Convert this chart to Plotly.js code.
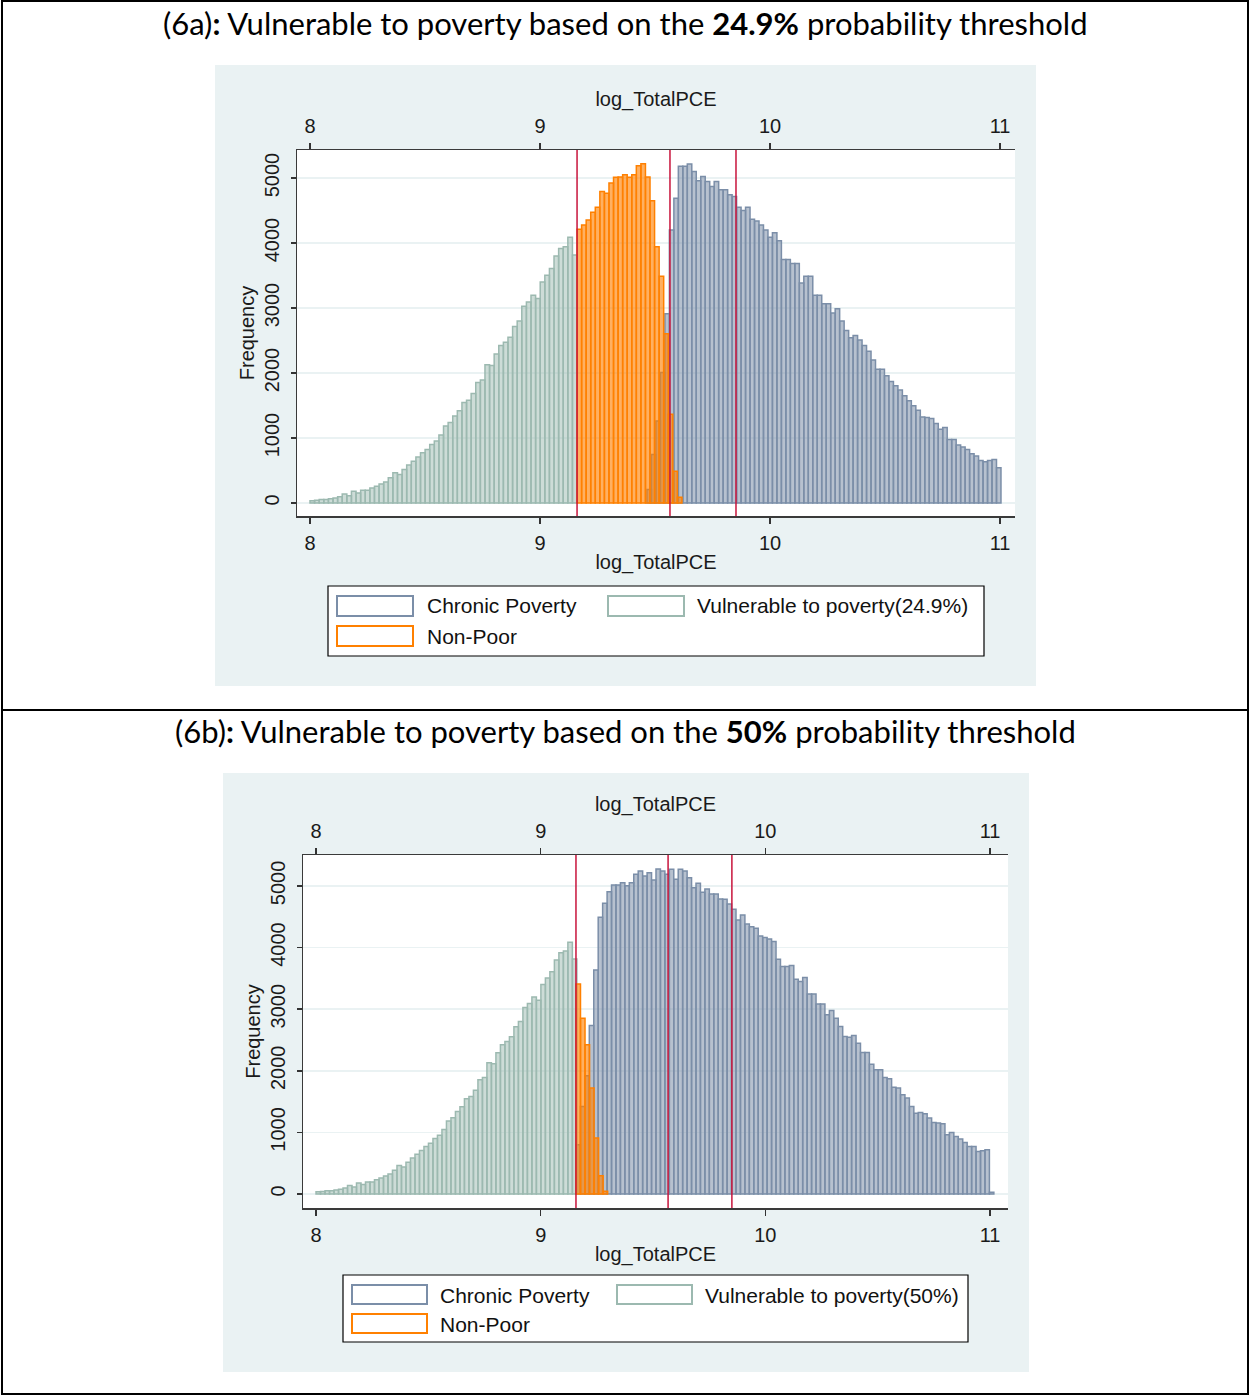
<!DOCTYPE html>
<html><head><meta charset="utf-8">
<script src="https://cdn.plot.ly/plotly-3.0.1.min.js"></script>
<style>html,body{margin:0;padding:0;background:#fff}#chart{width:1250px;height:1395px}</style>
</head><body><div id="chart"></div>
<script>
// ---------------- data ----------------
const xTicks = [8, 9, 10, 11];
const yTicks = [0, 1000, 2000, 3000, 4000, 5000];
const xTitle = 'log_TotalPCE';
const yTitle = 'Frequency';
const labelChronic = 'Chronic Poverty';
const labelNonPoor = 'Non-Poor';
const labelVulnA = 'Vulnerable to poverty(24.9%)';
const labelVulnB = 'Vulnerable to poverty(50%)';
const titleA = '(6a)<b>:</b> Vulnerable to poverty based on the <b>24.9%</b> probability threshold';
const titleB = '(6b)<b>:</b> Vulnerable to poverty based on the <b>50%</b> probability threshold';

// threshold lines (log_TotalPCE)
const thresholdsA = [9.161, 9.565, 9.852];
const thresholdsB = [9.157, 9.567, 9.851];

// bin ranges [first edge, last edge] of each histogram
const vulnRange = [8.0, 9.161];
const nonPoorRangeA = [9.161, 9.617];
const chronicRangeA = [9.465, 11.004];
const nonPoorRangeB = [9.157, 9.298];
const chronicRangeB = [9.157, 11.017];

// frequencies (vulnerable group identical in both panels)
const vulnerable = [36,41,52,52,67,77,98,139,113,180,155,196,196,232,258,294,325,387,464,438,
  516,583,644,706,773,825,902,954,1046,1186,1237,1340,1418,1547,1583,1686,1856,1892,2129,2114,
  2294,2423,2474,2552,2717,2799,3026,3093,3196,3145,3402,3505,3609,3799,3918,3944,4088,3815];

const nonPoorA = [4212,4279,4356,4475,4552,4794,4768,4923,5011,5016,5052,5011,5052,5191,5222,
  5016,4650,3944,3490,2603,1366,490,88];

const chronicA = [206,747,1263,2010,2913,4201,4691,5181,5181,5217,5103,4959,5026,4949,4871,4949,
  4820,4820,4743,4717,4552,4500,4552,4366,4341,4279,4201,4088,4160,4036,3748,3748,3686,3686,
  3387,3490,3490,3196,3196,3067,3067,2923,2990,2799,2655,2541,2578,2510,2423,2335,2201,2057,
  2057,1959,1871,1804,1737,1650,1572,1495,1428,1325,1315,1299,1222,1134,1160,979,979,892,861,
  825,758,722,655,634,655,670,541];

const nonPoorB = [3411,2854,2421,1719,908,297,43];

const chronicB = [800,1422,1919,2735,3638,4492,4719,4908,5016,5016,5054,5005,5054,5189,5243,5162,
  5216,5097,5275,5243,5189,5270,5108,5270,5243,5135,4973,5043,4897,4951,4870,4870,4789,4783,
  4708,4621,4448,4529,4383,4340,4313,4189,4162,4140,4097,3811,3692,3692,3708,3486,3448,3513,
  3248,3248,3086,3086,2908,2978,2854,2719,2557,2546,2573,2448,2297,2297,2108,2016,2016,1892,
  1870,1735,1719,1611,1557,1422,1313,1324,1303,1232,1162,1151,1140,962,1000,935,892,838,773,
  773,692,703,719,27];

// ---------------- styling / layout ----------------
const W = 1250, H = 1395;
const px = x => x / W;
const py = y => 1 - y / H;

const colChronic = '#7b8ea8', fillChronic = 'rgba(123,142,168,0.55)';
const colVuln = '#9cb9b0', fillVuln = 'rgba(156,185,176,0.5)';
const colNonPoor = '#ff8000', fillNonPoor = 'rgba(255,128,0,0.62)';
const redLine = '#c8143c';
const fam = '"Liberation Sans", Arial, sans-serif';
const tickFont = {family: fam, size: 20, color: '#1a1a1a'};
const axTitleFont = {family: fam, size: 20, color: '#1a1a1a'};
const legendFont = {family: fam, size: 21, color: '#111'};
const titleFont = {family: 'Lato, "Open Sans", sans-serif', size: 31, color: '#000'};

function hist(counts, range, name, line, fill, xa, ya) {
  const w = (range[1] - range[0]) / counts.length;
  return {
    type: 'bar', name: name,
    x: counts.map((_, i) => range[0] + (i + 0.5) * w),
    y: counts, width: w,
    marker: {color: fill, line: {color: line, width: 1.5}},
    xaxis: xa, yaxis: ya, showlegend: false, hoverinfo: 'x+y'
  };
}

const data = [
  hist(chronicA, chronicRangeA, labelChronic, colChronic, fillChronic, 'x', 'y'),
  hist(vulnerable, vulnRange, labelVulnA, colVuln, fillVuln, 'x', 'y'),
  hist(nonPoorA, nonPoorRangeA, labelNonPoor, colNonPoor, fillNonPoor, 'x', 'y'),
  {type: 'scatter', x: [null], y: [null], xaxis: 'x2', yaxis: 'y', showlegend: false, hoverinfo: 'skip'},
  hist(chronicB, chronicRangeB, labelChronic, colChronic, fillChronic, 'x3', 'y2'),
  hist(vulnerable, vulnRange, labelVulnB, colVuln, fillVuln, 'x3', 'y2'),
  hist(nonPoorB, nonPoorRangeB, labelNonPoor, colNonPoor, fillNonPoor, 'x3', 'y2'),
  {type: 'scatter', x: [null], y: [null], xaxis: 'x4', yaxis: 'y2', showlegend: false, hoverinfo: 'skip'}
];

function xAxis(domain, range, anchor, side, overlaying) {
  const a = {
    domain: domain, range: range, anchor: anchor, side: side,
    tickmode: 'array', tickvals: xTicks, ticktext: xTicks.map(String),
    ticks: 'outside', ticklen: 6, tickwidth: 1.5, tickcolor: '#333',
    showline: true, linecolor: '#3a3a3a', linewidth: 1.5,
    showgrid: false, zeroline: false, tickfont: tickFont,
    ticklabelstandoff: 2,
    title: {text: xTitle, font: axTitleFont, standoff: 2}
  };
  if (overlaying) a.overlaying = overlaying;
  return a;
}
function yAxis(domain, range, anchor) {
  return {
    domain: domain, range: range, anchor: anchor,
    tickmode: 'array', tickvals: yTicks, ticktext: yTicks.map(String),
    tickangle: -90, ticks: 'outside', ticklen: 5, tickwidth: 1.5, tickcolor: '#333',
    showline: true, linecolor: '#3a3a3a', linewidth: 1.5,
    showgrid: true, gridcolor: '#eaf2f3', gridwidth: 1.5, zeroline: false,
    tickfont: tickFont, ticklabelstandoff: 4,
    title: {text: yTitle, font: axTitleFont, standoff: 0}
  };
}

const domXA = [px(297), px(1015)], domYA = [py(516), py(150)];
const domXB = [px(303), px(1008)], domYB = [py(1208), py(855)];

const shapes = [];
function rect(x0, y0, x1, y1, fill, line, lw, layer) {
  shapes.push({type: 'rect', xref: 'paper', yref: 'paper', x0: px(x0), x1: px(x1), y0: py(y0), y1: py(y1),
    fillcolor: fill, line: {color: line || 'rgba(0,0,0,0)', width: lw || 0}, layer: layer || 'below'});
}
// graph regions and plot regions
rect(215, 65, 1036, 686, '#eaf2f3');
rect(297, 150, 1015, 516, '#ffffff');
rect(223, 773, 1029, 1372, '#eaf2f3');
rect(303, 855, 1008, 1208, '#ffffff');
// legend boxes
rect(328, 586, 984, 656, '#ffffff', '#000', 1.2);
rect(343, 1275, 968, 1342, '#ffffff', '#000', 1.2);
// legend keys
rect(337, 596, 413, 616, '#ffffff', colChronic, 2);
rect(608, 596, 684, 616, '#ffffff', colVuln, 2);
rect(337, 626, 413, 646, '#ffffff', colNonPoor, 2);
rect(352, 1285, 427, 1304, '#ffffff', colChronic, 2);
rect(617, 1285, 692, 1304, '#ffffff', colVuln, 2);
rect(352, 1314, 427, 1333, '#ffffff', colNonPoor, 2);
// frame and separator
rect(2, 1, 1248, 1394, 'rgba(0,0,0,0)', '#000', 2, 'above');
shapes.push({type: 'line', xref: 'paper', yref: 'paper', x0: px(2), x1: px(1248), y0: py(710), y1: py(710),
  line: {color: '#000', width: 2}, layer: 'above'});
// threshold lines
thresholdsA.forEach(t => shapes.push({type: 'line', xref: 'x', yref: 'y domain', x0: t, x1: t, y0: 0, y1: 1,
  line: {color: redLine, width: 1.5}, layer: 'above'}));
thresholdsB.forEach(t => shapes.push({type: 'line', xref: 'x3', yref: 'y2 domain', x0: t, x1: t, y0: 0, y1: 1,
  line: {color: redLine, width: 1.5}, layer: 'above'}));

function txt(text, x, y, font, xanchor) {
  return {text: text, xref: 'paper', yref: 'paper', x: px(x), y: py(y), xanchor: xanchor || 'left',
    yanchor: 'middle', showarrow: false, font: font};
}
const annotations = [
  txt(titleA, 625, 23, titleFont, 'center'),
  txt(titleB, 625, 731, titleFont, 'center'),
  txt(labelChronic, 425, 606, legendFont),
  txt(labelVulnA, 695, 606, legendFont),
  txt(labelNonPoor, 425, 636, legendFont),
  txt(labelChronic, 438, 1295, legendFont),
  txt(labelVulnB, 703, 1295, legendFont),
  txt(labelNonPoor, 438, 1324, legendFont)
];

const layout = {
  width: W, height: H, margin: {l: 0, r: 0, t: 0, b: 0},
  paper_bgcolor: '#ffffff', plot_bgcolor: 'rgba(0,0,0,0)',
  barmode: 'overlay', bargap: 0, showlegend: false,
  xaxis: xAxis(domXA, [7.9435, 11.065], 'y', 'bottom'),
  xaxis2: xAxis(domXA, [7.9435, 11.065], 'y', 'top', 'x'),
  yaxis: yAxis(domYA, [-200, 5432], 'x'),
  xaxis3: xAxis(domXB, [7.942, 11.080], 'y2', 'bottom'),
  xaxis4: xAxis(domXB, [7.942, 11.080], 'y2', 'top', 'x3'),
  yaxis2: yAxis(domYB, [-227, 5503], 'x3'),
  shapes: shapes, annotations: annotations
};

Plotly.newPlot('chart', data, layout, {staticPlot: true});
</script>
</body></html>
